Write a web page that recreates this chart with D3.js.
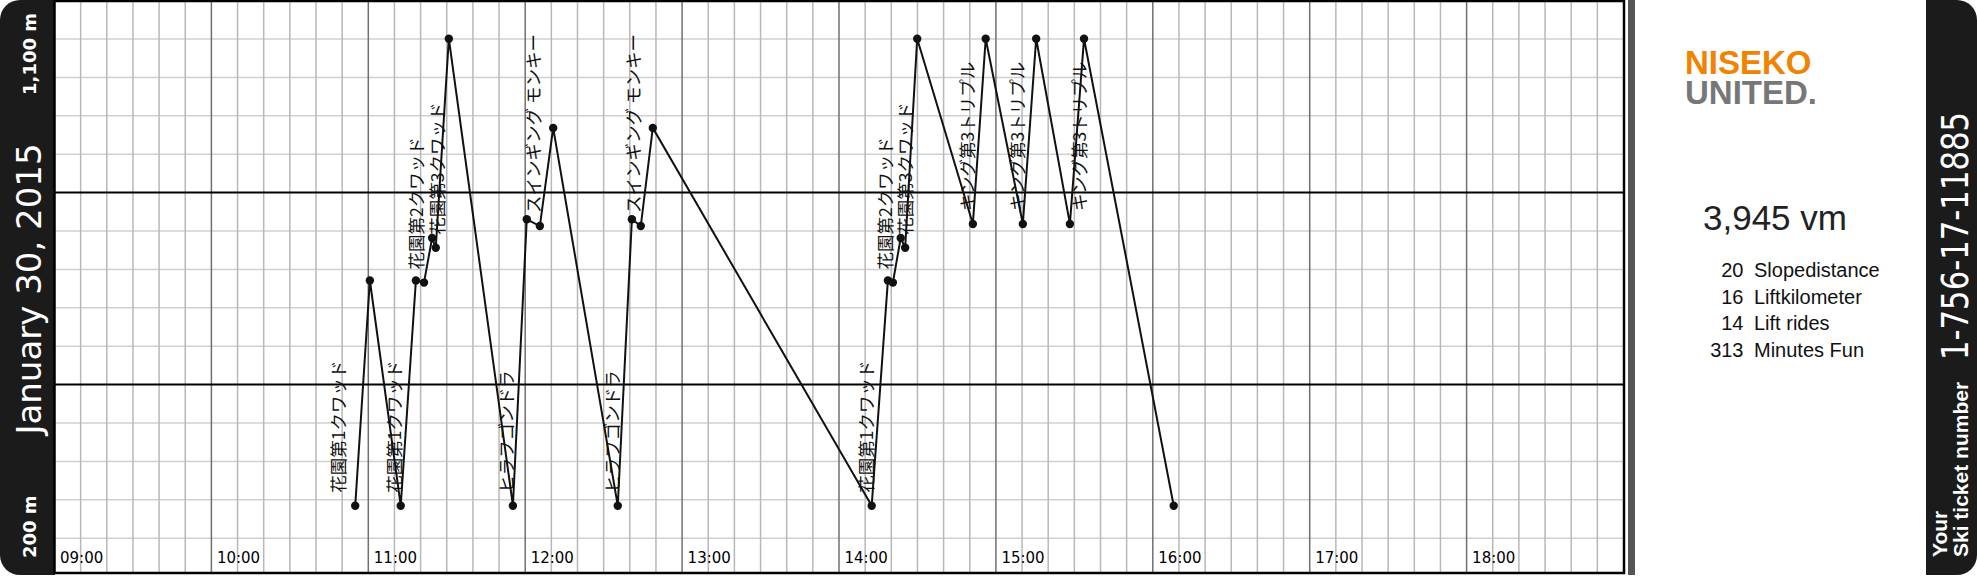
<!DOCTYPE html>
<html lang="en">
<head>
	<meta charset="UTF-8">
	<title>Ski day</title>
	<style>
		html, body {width: 100%; height: 100%; padding: 0; margin: 0; background: #fff;}
		svg {display: block;}
		.grid-h {stroke: #d0d0d0; stroke-width: 1.5px;}
		.grid-v {stroke: #b8b8b8; stroke-width: 1.5px;}
		.grid-hour {stroke: #707070; stroke-width: 1.5px;}
		.grid-major {stroke: #000; stroke-width: 2px;}
		.track {fill: none; stroke: #111; stroke-width: 2px;}
		.lift-label {font-family: "Noto Sans CJK JP", sans-serif; font-size: 17.5px; fill: #111;}
		.hour-label {font-family: "DejaVu Sans", sans-serif; font-size: 15px; fill: #000;}
	</style>
	<script src="https://d3js.org/d3.v7.min.js"></script>
</head>
<body>

<script>
// the day's track: time of each turn point and the elevation there (m)
var day = '2015-01-30';
var trackTimes = [
	'10:55:00', '11:00:36', '11:12:24', '11:18:12', '11:21:18', '11:24:24', '11:25:48', '11:30:48',
	'11:55:18', '12:00:36', '12:05:36', '12:10:42', '12:35:24', '12:40:48', '12:44:12', '12:48:48',
	'14:12:30', '14:18:42', '14:20:36', '14:23:36', '14:25:18', '14:29:54', '14:51:12', '14:56:06',
	'15:10:18', '15:15:24', '15:28:18', '15:33:42', '16:08:00'
];
var trackElev = [
	200, 634, 200, 634, 630, 716, 697, 1100,
	200, 752, 739, 928, 200, 752, 739, 928,
	200, 634, 630, 716, 697, 1100, 743, 1100,
	743, 1100, 743, 1100, 200
];

// lifts ridden
var liftNames = [
	'花園第1クワッド', '花園第1クワッド', '花園第2クワッド', '花園第3クワッド',
	'ヒラフゴンドラ', 'スインギング モンキー', 'ヒラフゴンドラ', 'スインギング モンキー',
	'花園第1クワッド', '花園第2クワッド', '花園第3クワッド',
	'キング第3トリプル', 'キング第3トリプル', 'キング第3トリプル'
];
var liftTimes = [
	'10:51:12', '11:12:36', '11:21:06', '11:29:00',
	'11:55:24', '12:05:30', '12:35:48', '12:44:00',
	'14:12:54', '14:20:18', '14:27:48',
	'14:51:30', '15:10:36', '15:34:18'
];
var liftBaseElev = [200, 200, 630, 697, 200, 739, 200, 739, 200, 630, 697, 743, 743, 743];

var dayStart = '09:00:00';
var dayEnd = '19:00:00';
var elevRange = [200, 1100];

var dateLabel = 'January 30, 2015';
var ticketNumber = '1-756-17-11885';
var verticalMeters = 3945;
var statValues = [20, 16, 14, 313];
var statNames = ['Slopedistance', 'Liftkilometer', 'Lift rides', 'Minutes Fun'];
</script>

<script>
	var width = 1977;
	var height = 584;
	var barH = 575;
	var plot = {left: 54.5, right: 1624, top: 1, bottom: 573};
	var parse = d3.timeParse('%Y-%m-%d %H:%M:%S');
	var t = function (s) { return parse(day + ' ' + s); };

	var svg = d3.select('body').append('svg')
		.attr('width', width)
		.attr('height', height);

	var x = d3.scaleTime()
		.domain([t(dayStart), t(dayEnd)])
		.range([plot.left, 1623.5]);
	var y = d3.scaleLinear()
		.domain(elevRange)
		.range([505.7, 38.7]);
	// decorative paper grid, 15 rows
	var rows = d3.scaleLinear().domain([0, 15]).range([0.6, 576.6]);

	// left dark strip
	svg.append('path')
		.attr('d', 'M55,0 H20 A20,20 0 0 0 0,20 V' + (barH - 20) + ' A20,20 0 0 0 20,' + barH + ' H55 Z')
		.attr('fill', '#1b1b1b');

	var g = svg.append('g');
	g.append('rect')
		.attr('x', plot.left).attr('y', plot.top)
		.attr('width', plot.right - plot.left).attr('height', plot.bottom - plot.top)
		.attr('fill', '#fff');

	var rowIdx = d3.range(1, 15);
	g.selectAll('.grid-h')
		.data(rowIdx.filter(function (d) { return d % 5 !== 0; }))
		.enter().append('line')
		.attr('class', 'grid-h')
		.attr('x1', plot.left).attr('x2', plot.right)
		.attr('y1', rows).attr('y2', rows);

	var minorTicks = x.ticks(d3.timeMinute.every(10)).filter(function (d) { return d.getMinutes() !== 0; });
	g.selectAll('.grid-v')
		.data(minorTicks)
		.enter().append('line')
		.attr('class', 'grid-v')
		.attr('x1', x).attr('x2', x)
		.attr('y1', plot.top).attr('y2', plot.bottom);

	var hourTicks = x.ticks(d3.timeHour.every(1)).filter(function (d) { return d < x.domain()[1]; });
	g.selectAll('.grid-hour')
		.data(hourTicks.slice(1))
		.enter().append('line')
		.attr('class', 'grid-hour')
		.attr('x1', x).attr('x2', x)
		.attr('y1', plot.top).attr('y2', plot.bottom);

	g.selectAll('.grid-major')
		.data(rowIdx.filter(function (d) { return d % 5 === 0; }))
		.enter().append('line')
		.attr('class', 'grid-major')
		.attr('x1', plot.left).attr('x2', plot.right)
		.attr('y1', rows).attr('y2', rows);

	g.append('rect')
		.attr('x', plot.left).attr('y', plot.top)
		.attr('width', plot.right - plot.left).attr('height', plot.bottom - plot.top)
		.attr('fill', 'none').attr('stroke', '#000').attr('stroke-width', 2.5);

	g.selectAll('.hour-label')
		.data(hourTicks)
		.enter().append('text')
		.attr('class', 'hour-label')
		.attr('x', function (d) { return x(d) + 5.5; })
		.attr('y', 563)
		.text(d3.timeFormat('%H:%M'));

	// track
	var pts = trackTimes.map(function (s, i) { return {time: t(s), elev: trackElev[i]}; });
	g.append('path')
		.datum(pts)
		.attr('class', 'track')
		.attr('d', d3.line()
			.x(function (d) { return x(d.time); })
			.y(function (d) { return y(d.elev); }));

	g.selectAll('.dot')
		.data(pts)
		.enter().append('circle')
		.attr('class', 'dot')
		.attr('r', 4.2)
		.attr('fill', '#111')
		.attr('cx', function (d) { return x(d.time); })
		.attr('cy', function (d) { return y(d.elev); });

	// lift names, written upward from the valley station
	var lifts = liftNames.map(function (n, i) { return {name: n, time: t(liftTimes[i]), elev: liftBaseElev[i]}; });
	g.selectAll('.lift-label')
		.data(lifts)
		.enter().append('text')
		.attr('class', 'lift-label')
		.attr('transform', function (d) { return 'translate(' + x(d.time) + ',' + y(d.elev) + ') rotate(-90)'; })
		.attr('x', 13)
		.attr('y', 0)
		.text(function (d) { return d.name; });

	// left strip texts
	var fmt = d3.format(',');
	svg.append('text')
		.attr('transform', 'translate(36,13) rotate(-90)')
		.attr('text-anchor', 'end')
		.attr('font-family', 'DejaVu Sans, sans-serif')
		.attr('font-weight', 'bold')
		.attr('font-size', 18)
		.attr('fill', '#fff')
		.text(fmt(elevRange[1]) + ' m');
	svg.append('text')
		.attr('transform', 'translate(36,558) rotate(-90)')
		.attr('text-anchor', 'start')
		.attr('font-family', 'DejaVu Sans, sans-serif')
		.attr('font-weight', 'bold')
		.attr('font-size', 18)
		.attr('fill', '#fff')
		.text(fmt(elevRange[0]) + ' m');
	svg.append('text')
		.attr('transform', 'translate(40.5,289) rotate(-90)')
		.attr('text-anchor', 'middle')
		.attr('font-family', 'DejaVu Sans, sans-serif')
		.attr('font-size', 34)
		.attr('fill', '#fff')
		.text(dateLabel);

	// separator
	svg.append('rect')
		.attr('x', 1628).attr('y', 0)
		.attr('width', 7).attr('height', barH)
		.attr('fill', '#555');

	// logo, two tight lines
	var logo = svg.append('text')
		.attr('font-family', 'Liberation Sans, Arial, sans-serif')
		.attr('font-weight', 'bold')
		.attr('font-size', 33);
	logo.append('tspan').attr('x', 1685).attr('y', 74).attr('fill', '#f08300').text('NISEKO');
	logo.append('tspan').attr('x', 1685).attr('y', 103.5).attr('fill', '#777').text('UNITED.');

	svg.append('text')
		.attr('x', 1703).attr('y', 230)
		.attr('font-family', 'Liberation Sans, Arial, sans-serif')
		.attr('font-size', 35)
		.attr('fill', '#222')
		.text(fmt(verticalMeters) + ' vm');

	var stats = svg.append('g')
		.attr('font-family', 'Liberation Sans, Arial, sans-serif')
		.attr('font-size', 20)
		.attr('fill', '#111');
	stats.selectAll('.stat-v')
		.data(statValues)
		.enter().append('text')
		.attr('class', 'stat-v')
		.attr('x', 1743.5)
		.attr('y', function (d, i) { return 276.7 + i * 26.8; })
		.attr('text-anchor', 'end')
		.text(function (d) { return d; });
	stats.selectAll('.stat-n')
		.data(statNames)
		.enter().append('text')
		.attr('class', 'stat-n')
		.attr('x', 1754)
		.attr('y', function (d, i) { return 276.7 + i * 26.8; })
		.text(function (d) { return d; });

	// right strip
	svg.append('path')
		.attr('d', 'M1926,0 H1957 A20,20 0 0 1 1977,20 V' + (barH - 20) + ' A20,20 0 0 1 1957,' + barH + ' H1926 Z')
		.attr('fill', '#1b1b1b');
	svg.append('text')
		.attr('transform', 'translate(1968,236) rotate(-90)')
		.attr('text-anchor', 'middle')
		.attr('font-family', 'DejaVu Sans, sans-serif')
		.attr('font-size', 38)
		.attr('textLength', 248)
		.attr('lengthAdjust', 'spacingAndGlyphs')
		.attr('fill', '#fff')
		.text(ticketNumber);
	var tk = svg.append('text')
		.attr('transform', 'translate(1946.5,557) rotate(-90)')
		.attr('font-family', 'Liberation Sans, Arial, sans-serif')
		.attr('font-weight', 'bold')
		.attr('font-size', 21)
		.attr('fill', '#fff');
	tk.append('tspan').attr('x', 0).attr('y', 0).text('Your');
	tk.append('tspan').attr('x', 0).attr('y', 21.5).text('Ski ticket number');
</script>

</body>
</html>
